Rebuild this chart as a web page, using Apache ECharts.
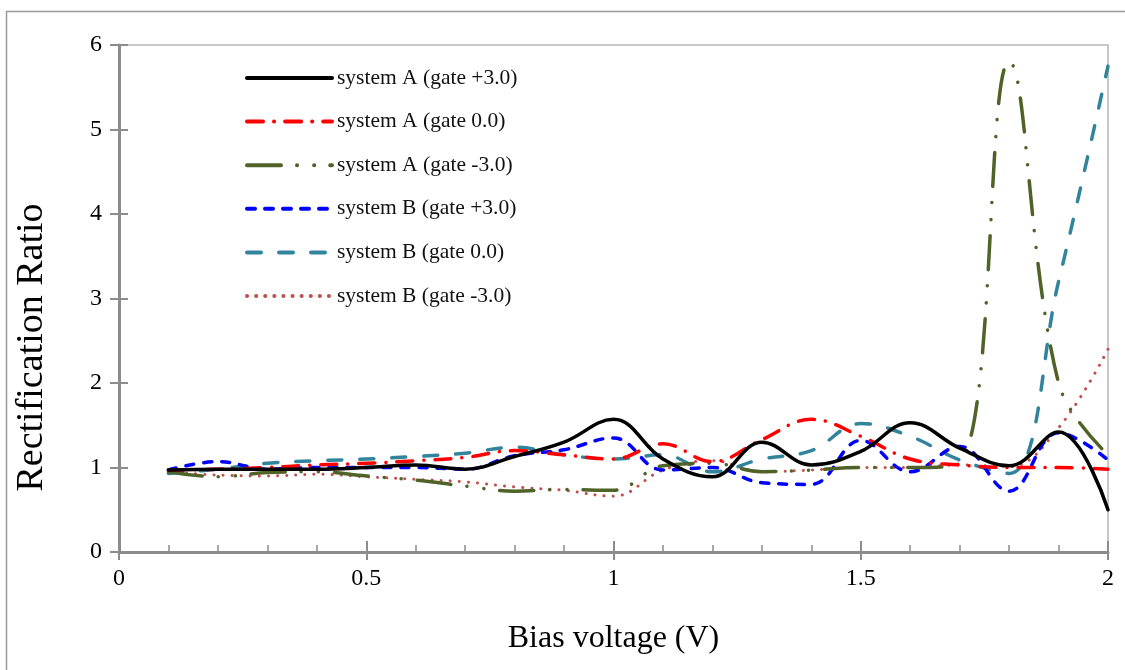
<!DOCTYPE html>
<html><head><meta charset="utf-8">
<script src="https://cdn.jsdelivr.net/npm/echarts@6/dist/echarts.min.js"></script>
<style>html,body{margin:0;padding:0;background:#fff}#c{width:1125px;height:670px}</style>
</head><body><div id="c"></div>
<script>
const xValues = [0.1,0.2,0.3,0.4,0.5,0.6,0.7,0.8,0.9,1.0,1.1,1.2,1.3,1.4,1.5,1.6,1.7,1.8,1.9,2.0];
const sysA_gateP3 = [0.97,0.98,0.98,0.98,1.0,1.03,0.98,1.13,1.3,1.57,1.1,0.89,1.3,1.03,1.19,1.53,1.23,1.02,1.42,0.5];
const sysA_gate0  = [0.97,0.98,1.0,1.03,1.05,1.08,1.12,1.2,1.15,1.1,1.28,1.07,1.33,1.57,1.37,1.1,1.03,1.0,1.0,0.98];
const sysA_gateM3 = [0.95,0.89,0.94,0.95,0.9,0.85,0.78,0.72,0.74,0.73,1.02,1.05,0.95,0.97,1.0,1.0,1.05,5.8,2.0,1.15];
const sysB_gateP3 = [0.97,1.07,0.98,1.0,1.0,1.0,0.98,1.14,1.21,1.35,0.97,1.0,0.82,0.8,1.32,0.95,1.25,0.72,1.41,1.09];
const sysB_gate0  = [0.93,0.98,1.05,1.08,1.1,1.13,1.17,1.24,1.15,1.1,1.15,0.95,1.1,1.2,1.52,1.37,1.09,0.93,3.2,5.75];
const sysB_gateM3 = [0.95,0.91,0.9,0.92,0.89,0.86,0.83,0.77,0.73,0.66,0.97,1.08,0.95,0.97,1.0,1.0,1.03,1.01,1.47,2.4];
const seriesNames = ['system A (gate +3.0)','system A (gate 0.0)','system A (gate -3.0)','system B (gate +3.0)','system B (gate 0.0)','system B (gate -3.0)'];
const xTicks = [0,0.5,1,1.5,2];
const yTicks = [0,1,2,3,4,5,6];

const serif = 'Liberation Serif';
const pairs = v => xValues.map((x,i)=>[x,v[i]]);
const styles = [
  {color:'#000000', width:3.5, type:'solid'},
  {color:'#FF0000', width:3.5, type:[16,11,0.1,11]},
  {color:'#4F6228', width:3.5, type:[34,16,0.1,17,0.1,16]},
  {color:'#0000FF', width:3.5, type:[8,10]},
  {color:'#31849B', width:3.5, type:[14,18]},
  {color:'#C0504D', width:3, type:[0.1,9]}
];
const dataSets = [sysA_gateP3,sysA_gate0,sysA_gateM3,sysB_gateP3,sysB_gate0,sysB_gateM3];
const series = dataSets.map((d,i)=>({
  name: seriesNames[i], type:'line', xAxisIndex:0, yAxisIndex:0,
  data: pairs(d), smooth:0.4, showSymbol:false, symbol:'none',
  lineStyle:{color:styles[i].color, width:styles[i].width, type:styles[i].type, cap:'round', join:'round'},
  itemStyle:{color:styles[i].color},
  z: 10 - i
}));
const axisGray = '#8c8c8c';
const chart = echarts.init(document.getElementById('c'));
chart.setOption({
  animation:false,
  backgroundColor:'#fff',
  graphic:[{type:'rect', shape:{x:6.5,y:11.5,width:1130,height:700}, style:{fill:'none', stroke:'#9a9a9a', lineWidth:1.5}, silent:true}],
  legend:{
    orient:'vertical', left:240, top:62, itemWidth:85, itemHeight:16, itemGap:21.6,
    itemStyle:{opacity:0},
    lineStyle:{width:4, cap:'round'},
    textStyle:{fontFamily:serif, fontSize:21.5, lineHeight:20, color:'#111'},
    data: seriesNames
  },
  grid:{left:119, right:17, top:45, bottom:118, show:true, borderColor:'#c8c8c8', borderWidth:2, backgroundColor:'transparent'},
  xAxis:[
    {type:'value', min:0, max:2, interval:0.5, position:'bottom',
     axisLine:{show:true, onZero:false, lineStyle:{color:axisGray, width:3}},
     axisTick:{show:true, inside:false, length:8, lineStyle:{color:axisGray, width:2}},
     axisLabel:{fontFamily:serif, fontSize:24, color:'#000', margin:15, formatter:v=>String(v)},
     splitLine:{show:false},
     name:'Bias voltage (V)', nameLocation:'middle', nameGap:71,
     nameTextStyle:{fontFamily:serif, fontSize:32, color:'#000'}},
    {type:'value', min:0, max:2, interval:0.1, position:'bottom',
     axisLine:{show:false, onZero:false}, axisTick:{show:true, inside:true, length:7, lineStyle:{color:axisGray, width:1.5}},
     axisLabel:{show:false}, splitLine:{show:false}},
    {type:'value', min:0, max:2, interval:0.5, position:'bottom',
     axisLine:{show:false, onZero:false}, axisTick:{show:true, inside:true, length:11, lineStyle:{color:axisGray, width:2}},
     axisLabel:{show:false}, splitLine:{show:false}}
  ],
  yAxis:[
    {type:'value', min:0, max:6, interval:1, position:'left',
     axisLine:{show:true, onZero:false, lineStyle:{color:axisGray, width:3}},
     axisTick:{show:true, inside:false, length:9, lineStyle:{color:axisGray, width:2}},
     axisLabel:{fontFamily:serif, fontSize:24, color:'#000', margin:17},
     splitLine:{show:false},
     name:'Rectification Ratio', nameLocation:'middle', nameGap:68,
     nameTextStyle:{fontFamily:serif, fontSize:38, color:'#000', padding:[0,98,0,0]}},
    {type:'value', min:0, max:6, interval:1, position:'left',
     axisLine:{show:false, onZero:false}, axisTick:{show:true, inside:true, length:9, lineStyle:{color:axisGray, width:2}},
     axisLabel:{show:false}, splitLine:{show:false}}
  ],
  series: series
});
</script></body></html>
